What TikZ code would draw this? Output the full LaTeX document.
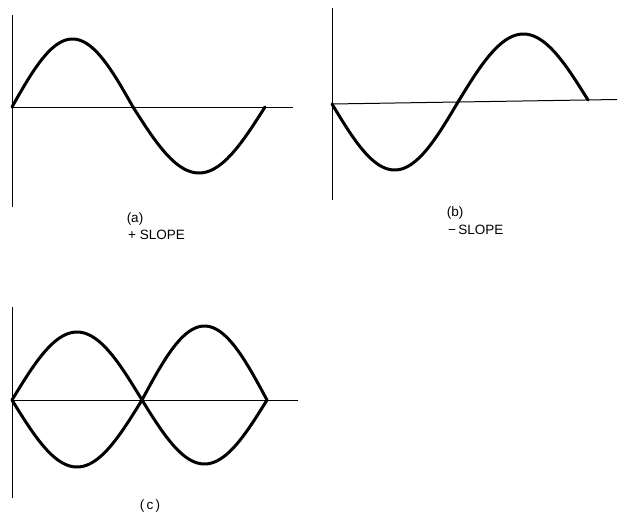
\documentclass[tikz,border=0pt]{standalone}
\usepackage{fontspec}
\setmainfont{Liberation Sans}
\usepackage{tikz}
\usetikzlibrary{
	positioning
}

\begin{document}
\begin{tikzpicture}[
			x=1pt, y=-1pt,
			font=\fontsize{13.5}{15}\selectfont,
			eixo/.style={draw, line width=1pt},
			onda/.style={draw, line width=3pt, line cap=round, line join=round},
			rotulo/.style={inner sep=0pt, anchor=center}
		]
		\useasboundingbox (0,0) rectangle (617,516);

		% (a) + slope
		\draw[eixo] (12,15) -- (12,207);
		\draw[eixo] (12,107) -- (293,107);
		\draw[onda] plot[domain=0:180, samples=50] ({12+\x/180*121}, {107-68*sin(\x)});
		\draw[onda] plot[domain=0:180, samples=50] ({133+\x/180*132}, {107+66*sin(\x)});
		\node[rotulo] (la) at (135,219) {(a)};
		\node[rotulo, anchor=west] (sa) at (128,235) {+ SLOPE};

		% (b) - slope
		\draw[eixo] (332,8) -- (332,200);
		\draw[eixo] (332,104) -- (617,99.5);
		\draw[onda] plot[domain=0:180, samples=50] ({332+\x/180*126}, {104-2*\x/180+67*sin(\x)});
		\draw[onda] plot[domain=0:180, samples=50] ({458+\x/180*130}, {102-2*\x/180-67*sin(\x)});
		\node[rotulo] (lb) at (455,213) {(b)};
		\node[rotulo, anchor=west] (sb) at (448,230) {−\,SLOPE};

		% (c) both
		\draw[eixo] (12,307) -- (12,498);
		\draw[eixo] (12,400) -- (298,400);
		\draw[onda] plot[domain=0:180, samples=50] ({12+\x/180*130}, {400-68*sin(\x)});
		\draw[onda] plot[domain=0:180, samples=50] ({142+\x/180*125}, {400-74*sin(\x)});
		\draw[onda] plot[domain=0:180, samples=50] ({12+\x/180*130}, {400+67*sin(\x)});
		\draw[onda] plot[domain=0:180, samples=50] ({142+\x/180*125}, {400+64*sin(\x)});
		\node[rotulo] (lc) at (150,506) {(\,c\,)};
	\end{tikzpicture}
\end{document}
